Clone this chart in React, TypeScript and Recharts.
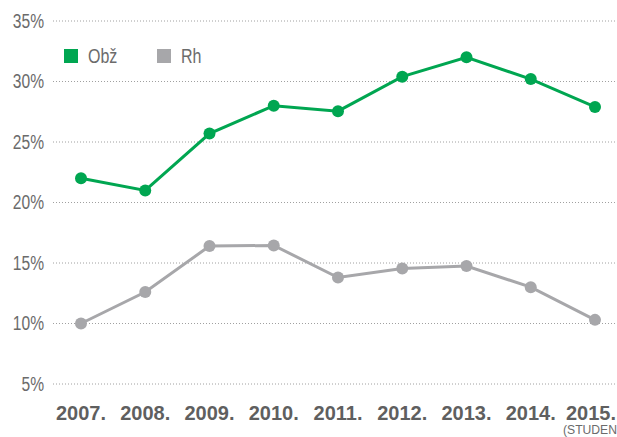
import React from 'react';
import { LineChart, Line, XAxis, YAxis, CartesianGrid } from 'recharts';

const years = ['2007.', '2008.', '2009.', '2010.', '2011.', '2012.', '2013.', '2014.', '2015.'];
const obz = [22.0, 21.0, 25.7, 28.0, 27.55, 30.4, 32.0, 30.2, 27.9];
const rh = [10.0, 12.6, 16.4, 16.45, 13.8, 14.55, 14.75, 13.0, 10.3];
const yTicks = [5, 10, 15, 20, 25, 30, 35];
const seriesNames = ['Obž', 'Rh'];
const footnote = '(STUDENI)';

const data = years.map((y, i) => ({ year: y, obz: obz[i], rh: rh[i] }));

const GREEN = '#00A651';
const GRAY = '#A7A7AA';
const FONT = "'Liberation Sans', Arial, sans-serif";
const NARROW = 0.8;

const YTick = (props: any) => {
  const { x, y, payload } = props;
  return (
    <text
      transform={`translate(${x},${y}) scale(${NARROW},1)`}
      textAnchor="end"
      dominantBaseline="central"
      fill="#6b6b6b"
      fontSize={19.5}
      fontFamily={FONT}
    >
      {`${payload.value}%`}
    </text>
  );
};

const XTick = (props: any) => {
  const { x, y, payload, index } = props;
  const shift = index === years.length - 1 ? -4 : 0;
  return (
    <text
      x={x + shift}
      y={y}
      dy="0.71em"
      textAnchor="middle"
      fill="#5f5f5f"
      fontSize={20}
      fontWeight="bold"
      fontFamily={FONT}
    >
      {payload.value}
    </text>
  );
};

const narrowSpan: React.CSSProperties = {
  display: 'inline-block',
  transform: `scaleX(${NARROW})`,
  transformOrigin: 'left center',
};

export default function App() {
  return (
    <div style={{ position: 'absolute', left: 0, top: 0, width: 617, height: 437, overflow: 'hidden', background: '#fff' }}>
      <LineChart width={617} height={437} data={data} margin={{ top: 21, right: 2, bottom: 0, left: 0 }}>
        <CartesianGrid vertical={false} stroke="#a0a0a0" strokeDasharray="1 2" />
        <XAxis
          dataKey="year"
          axisLine={false}
          tickLine={false}
          height={53}
          padding={{ left: 28, right: 20 }}
          tickMargin={16}
          interval={0}
          tick={<XTick />}
        />
        <YAxis
          domain={[5, 35]}
          ticks={yTicks}
          axisLine={false}
          tickLine={false}
          width={53}
          tickMargin={3}
          tick={<YTick />}
        />
        <Line
          dataKey="obz"
          name={seriesNames[0]}
          stroke={GREEN}
          strokeWidth={3}
          dot={{ r: 6, fill: GREEN, stroke: GREEN, strokeWidth: 0 }}
          isAnimationActive={false}
        />
        <Line
          dataKey="rh"
          name={seriesNames[1]}
          stroke={GRAY}
          strokeWidth={3}
          dot={{ r: 6, fill: GRAY, stroke: GRAY, strokeWidth: 0 }}
          isAnimationActive={false}
        />
      </LineChart>
      <div style={{ position: 'absolute', left: 64, top: 44, height: 24, display: 'flex', alignItems: 'center', fontFamily: FONT, fontSize: 20, color: '#6b6b6b' }}>
        <span style={{ display: 'inline-block', width: 14, height: 14, background: GREEN, marginRight: 10 }} />
        <span style={{ ...narrowSpan, width: 69 }}>{seriesNames[0]}</span>
        <span style={{ display: 'inline-block', width: 14, height: 14, background: GRAY, marginRight: 10 }} />
        <span style={narrowSpan}>{seriesNames[1]}</span>
      </div>
      <div style={{ position: 'absolute', left: 563, top: 423, fontFamily: FONT, fontSize: 13.5, color: '#6b6b6b', whiteSpace: 'nowrap', lineHeight: '14px', display: 'inline-block', transform: 'scaleX(0.9)', transformOrigin: 'left center' }}>
        {footnote}
      </div>
    </div>
  );
}
